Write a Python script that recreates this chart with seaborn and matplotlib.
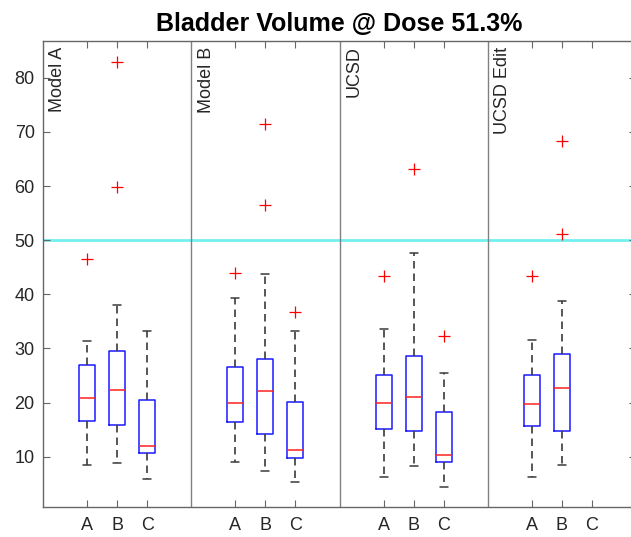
import numpy as np
import pandas as pd
import seaborn as sns
import matplotlib
matplotlib.use("Agg")
import matplotlib.pyplot as plt

# ---- data (one entry per box) ----
models = ["Model A", "Model B", "UCSD", "UCSD Edit"]
classes = ["A", "B", "C"]

box_model = ["Model A"] * 3 + ["Model B"] * 3 + ["UCSD"] * 3 + ["UCSD Edit"] * 2
box_class = ["A", "B", "C", "A", "B", "C", "A", "B", "C", "A", "B"]
whisker_lo = [8.5, 8.8, 5.9, 9.0, 7.4, 5.3, 6.3, 8.2, 4.45, 6.2, 8.5]
q1 = [16.6, 15.8, 10.6, 16.4, 14.1, 9.8, 15.2, 14.7, 9.0, 15.7, 14.8]
median = [20.9, 22.4, 12.0, 20.0, 22.1, 11.3, 19.9, 21.1, 10.4, 19.7, 22.75]
q3 = [26.9, 29.6, 20.4, 26.6, 28.1, 20.1, 25.0, 28.6, 18.2, 25.0, 29.0]
whisker_hi = [31.4, 38.0, 33.3, 39.4, 43.7, 33.2, 33.5, 47.7, 25.4, 31.55, 38.7]
outliers = [[46.6], [59.75, 83.0], [], [44.0], [56.5, 71.4], [36.7],
            [43.4], [63.1], [32.3], [43.4], [51.1, 68.3]]
threshold = 50

# long-form table; quartiles/median are weighted so the box stats come out as read
rows = []
for i in range(len(box_model)):
    values = ([whisker_lo[i]] + [q1[i]] * 10 + [median[i]] * 10
              + [q3[i]] * 10 + [whisker_hi[i]] + outliers[i])
    for v in values:
        rows.append((box_model[i], box_class[i], v))
df = pd.DataFrame(rows, columns=["model", "cls", "value"])

# ---- style ----
sns.set_style("ticks")
plt.rcParams["font.family"] = ["Liberation Sans", "DejaVu Sans"]

dodge_width = 0.608
axis_grey = "#666666"
text_col = "#262626"

fig = plt.figure(figsize=(6.31, 5.37), dpi=100)
ax = fig.add_axes([43 / 631, 30 / 537, 593 / 631, 466 / 537])

sns.boxplot(
    data=df, x="model", y="value", hue="cls",
    order=models, hue_order=classes,
    width=dodge_width, gap=0.467, dodge=True, fill=False, legend=False, ax=ax,
    boxprops=dict(color="#1a1aff", linewidth=1.1),
    medianprops=dict(color="#ff2020", linewidth=1.1),
    whiskerprops=dict(color="#3a3a3a", linewidth=1.2, linestyle=(0, (4.5, 3))),
    capprops=dict(color="#3a3a3a", linewidth=1.1),
    flierprops=dict(marker="+", markersize=8.5, markeredgecolor="#ff0000",
                    markeredgewidth=0.9, linestyle="none"),
)

# threshold line and group separators
ax.axhline(threshold, color="#72f0f0", lw=2, zorder=0.5)
for sep in np.arange(len(models) - 1) + 0.5:
    ax.axvline(sep, color="#808080", lw=1, zorder=0.6)

# group names, rotated, top-left of each panel
for g, name in enumerate(models):
    ax.text(g - 0.5 + 0.1, 0.988, name, transform=ax.get_xaxis_transform(),
            rotation=90, ha="center", va="top", fontsize=13, color=text_col)

offsets = (np.arange(len(classes)) - (len(classes) - 1) / 2) * dodge_width / len(classes)
ticks = [g + o for g in range(len(models)) for o in offsets]
ax.set_xticks(ticks)
ax.set_xticklabels(classes * len(models))
ax.set_xlim(-0.5, len(models) - 0.5)
ax.set_ylim(0.7, 86.8)
ax.set_yticks(range(10, 90, 10))
ax.set_xlabel("")
ax.set_ylabel("")

ax.tick_params(direction="in", top=True, right=True, length=5, width=0.8,
               color=axis_grey, labelsize=13, labelcolor=text_col)
ax.tick_params(axis="y", pad=6)
ax.tick_params(axis="x", pad=7)
for s in ax.spines.values():
    s.set_visible(True)
    s.set_color(axis_grey)
    s.set_linewidth(1.0)

ax.set_title("Bladder Volume @ Dose 51.3%", fontsize=18, fontweight="bold",
             pad=7, color="black")

fig.savefig("out.png", dpi=100)
